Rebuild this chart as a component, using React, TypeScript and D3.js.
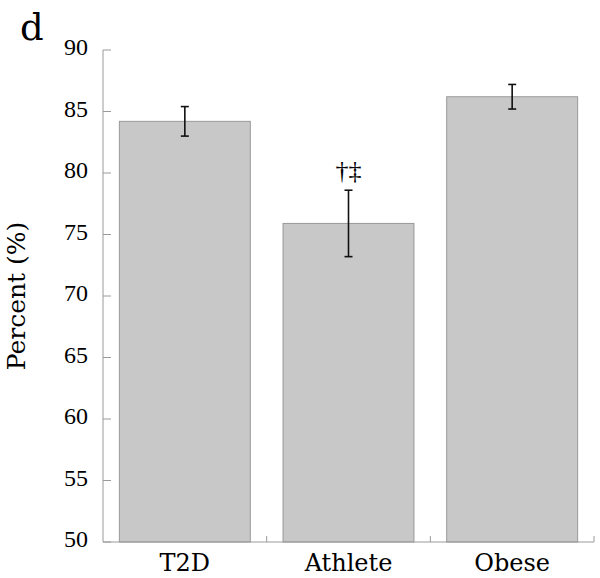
import React from "react";
import * as d3 from "d3";

const categories = ["T2D", "Athlete", "Obese"];
const means = [84.2, 75.9, 86.2];
const errLow = [83.0, 73.2, 85.2];
const errHigh = [85.4, 78.6, 87.2];
const annotations = ["", "†‡", ""];
const yTicks = [50, 55, 60, 65, 70, 75, 80, 85, 90];

const W = 600, H = 578;
const left = 103, right = 594, top = 50, bottom = 542;
const SERIF_T = "Liberation Serif";
const SERIF_D = "DejaVu Serif";

export default function App() {
  const x = d3.scaleBand<string>().domain(categories).range([left, right]).paddingInner(0.2).paddingOuter(0.1);
  const y = d3.scaleLinear().domain([50, 90]).range([bottom, top]);
  const boundaries = [1, 2, 3].map((i) => left + i * ((right - left) / 3));
  const axisColor = "#9a9a9a";
  const tT = { fontFamily: SERIF_T };
  const tD = { fontFamily: SERIF_D };
  return (
    <svg width={W} height={H} style={{ position: "absolute", left: 0, top: 0, background: "#fff" }}>
      <text x={20} y={40} style={tD} fontSize={37} fill="#000">d</text>
      {categories.map((c, i) => (
        <rect key={c} x={x(c)} y={y(means[i])} width={x.bandwidth()} height={bottom - y(means[i])}
          fill="#c8c8c8" stroke="#999" strokeWidth={1} />
      ))}
      {categories.map((c, i) => {
        const cx = (x(c) as number) + x.bandwidth() / 2;
        return (
          <g key={c + "e"} stroke="#111" strokeWidth={1.6}>
            <line x1={cx} x2={cx} y1={y(errLow[i])} y2={y(errHigh[i])} />
            <line x1={cx - 4} x2={cx + 4} y1={y(errLow[i])} y2={y(errLow[i])} />
            <line x1={cx - 4} x2={cx + 4} y1={y(errHigh[i])} y2={y(errHigh[i])} />
          </g>
        );
      })}
      {categories.map((c, i) => annotations[i] ? (
        <text key={c + "a"} x={(x(c) as number) + x.bandwidth() / 2} y={y(errHigh[i]) - 11}
          textAnchor="middle" style={tT} fontSize={26} fill="#000">{annotations[i]}</text>
      ) : null)}
      <line x1={left} x2={left} y1={top} y2={bottom} stroke={axisColor} strokeWidth={1} />
      {yTicks.map((t) => (
        <g key={t}>
          <line x1={left} x2={left + 8} y1={y(t)} y2={y(t)} stroke={axisColor} strokeWidth={1} />
          <text x={88} y={y(t) + 5} textAnchor="end" style={tT} fontSize={24} fill="#000">{t}</text>
        </g>
      ))}
      <line x1={left} x2={right} y1={bottom} y2={bottom} stroke={axisColor} strokeWidth={1} />
      {boundaries.map((b, i) => (
        <line key={i} x1={b} x2={b} y1={bottom} y2={bottom - 6} stroke={axisColor} strokeWidth={1} />
      ))}
      {categories.map((c) => (
        <text key={c + "l"} x={(x(c) as number) + x.bandwidth() / 2} y={571} textAnchor="middle"
          style={tD} fontSize={24} fill="#000">{c}</text>
      ))}
      <text transform={`translate(25,${(top + bottom) / 2}) rotate(-90)`} textAnchor="middle"
        style={tD} fontSize={25} fill="#000">Percent (%)</text>
    </svg>
  );
}
